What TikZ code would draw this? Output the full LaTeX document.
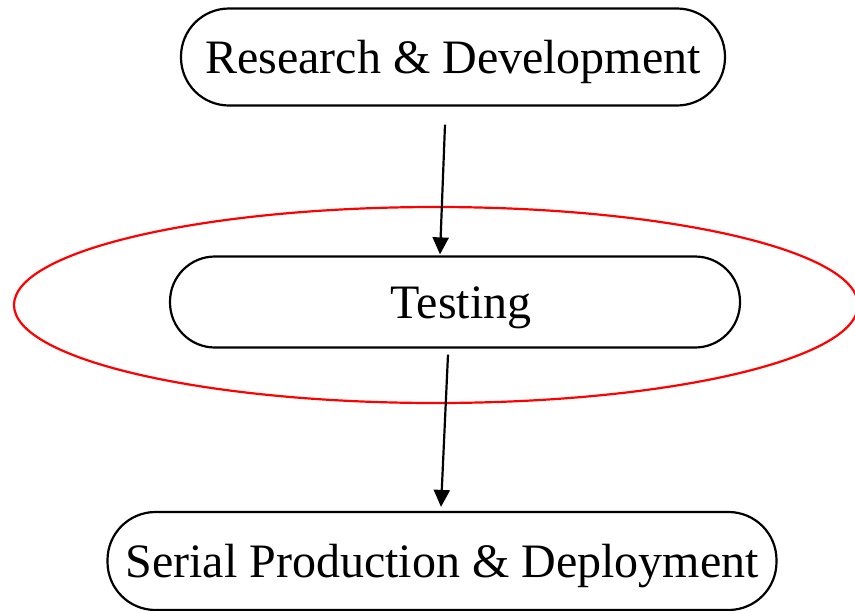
\documentclass[tikz,border=0pt]{standalone}
\usepackage{fontspec}
\setmainfont{Liberation Serif}
\usetikzlibrary{calc,arrows.meta}
\begin{document}
\begin{tikzpicture}[x=1pt,y=-1pt,
  stage/.style={draw=black,line width=2.2pt,inner sep=0pt,text height=43pt,text depth=11pt,font=\fontsize{48}{56}\selectfont},
  flow/.style={draw=black,line width=2.2pt,-{Triangle[length=17pt,width=16pt]}},
  group/.style={draw=red,line width=2.2pt}]
\useasboundingbox (0,0) rectangle (855,611);
\draw[group] (436,305) ellipse [x radius=422pt, y radius=98pt];
\node[stage,minimum width=544pt,minimum height=97pt,rounded corners=48pt] (rd) at (453,57) {Research \& Development};
\node[stage,minimum width=570pt,minimum height=91pt,rounded corners=45pt] (test) at (455,302) {\hspace*{12pt}Testing};
\node[stage,minimum width=669pt,minimum height=98pt,rounded corners=48pt] (prod) at (442,561) {Serial Production \& Deployment};
\draw[flow] ($(rd.south)+(-8,18)$) -- ($(test.north)+(-15,-1)$);
\draw[flow] ($(test.south)+(-7,6)$) -- ($(prod.north)+(-1,-4)$);
\end{tikzpicture}
\end{document}
